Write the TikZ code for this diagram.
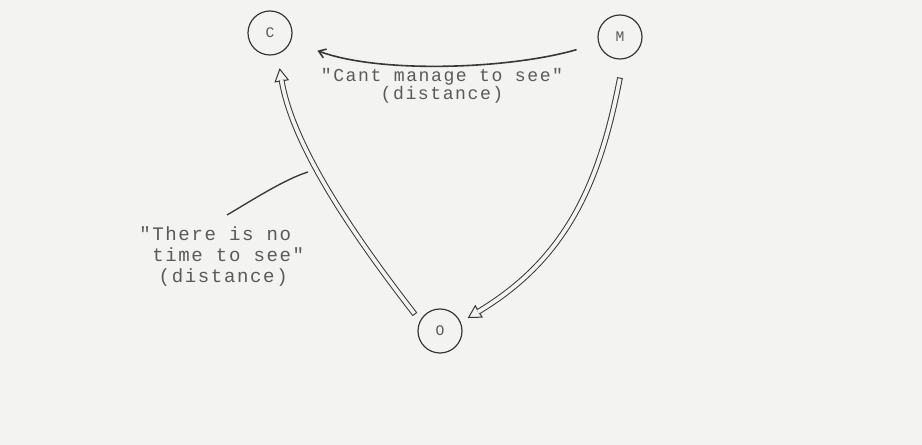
\documentclass[tikz,border=0pt]{standalone}
\usepackage{fontspec}
\newfontfamily\typew{Liberation Mono}
\newfontfamily\typewsp[LetterSpace=8.5]{Liberation Mono}
\usetikzlibrary{arrows.meta}
\definecolor{paper}{RGB}{243,243,241}
\definecolor{ink}{RGB}{55,55,55}
\definecolor{typeink}{RGB}{90,90,90}
\begin{document}
\begin{tikzpicture}[x=0.75pt,y=-0.75pt,
  state/.style={circle, draw=ink, line width=0.9pt, minimum size=33pt, inner sep=0pt,
    font={\typew\fontsize{11}{11}\selectfont}, text=typeink},
  headline/.style={draw=ink, line width=0.75pt,
    {Bar[width=4.3pt,line width=0.75pt]}-{Triangle[length=10pt,width=11pt,fill=paper]}},
  shaft/.style={draw=ink, line width=0.75pt, double=paper, double distance=2.8pt},
  thinarrow/.style={draw=ink, line width=1.2pt, -{Straight Barb[length=5pt,width=7pt]}},
  pointer/.style={draw=ink, line width=1pt},
  typed/.style={text=typeink, inner sep=0pt}
]
\fill[paper] (0,0) rectangle (922,445);
\useasboundingbox (0,0) rectangle (922,445);

\node[state] (C) at (270,33) {C};
\node[state] (M) at (620,37) {M};
\node[state] (O) at (440,331) {O};

% M -> C
\draw[thinarrow, shorten <=17pt, shorten >=21pt] (M) .. controls (510,69) and (380,74) .. (C);

% O -> C (hollow double arrow)
\draw[headline, shorten <=6pt, shorten >=10.5pt] (O.153) .. controls (362,246) and (293,150) .. (C.-71);
\draw[shaft, shorten <=6.8pt, shorten >=19.5pt] (O.153) .. controls (362,246) and (293,150) .. (C.-71);

% M -> O (hollow double arrow)
\draw[headline, shorten <=14pt, shorten >=6pt] (M.-81) .. controls (600,181) and (568,258) .. (O.23);
\draw[shaft, shorten <=14.8pt, shorten >=15pt] (M.-81) .. controls (600,181) and (568,258) .. (O.23);

% texts
\node[typed, font={\typewsp\fontsize{13.6}{13.9}\selectfont}, align=center, anchor=base] (t1)
  at (442,100) {"Cant manage to see"\\(distance)};
\node[typed, font={\typewsp\fontsize{14.3}{15.75}\selectfont}, align=left, anchor=base west] (t2)
  at (139,283) {"There is no\\\hspace*{9.75pt}time to see"\\\hspace*{14.6pt}(distance)};

% pointer
\coordinate (ps) at (227,215);
\coordinate (pe) at (308,172);
\draw[pointer] (ps) .. controls (248.5,202.5) and (284.1,179.3) .. (pe);
\end{tikzpicture}
\end{document}
